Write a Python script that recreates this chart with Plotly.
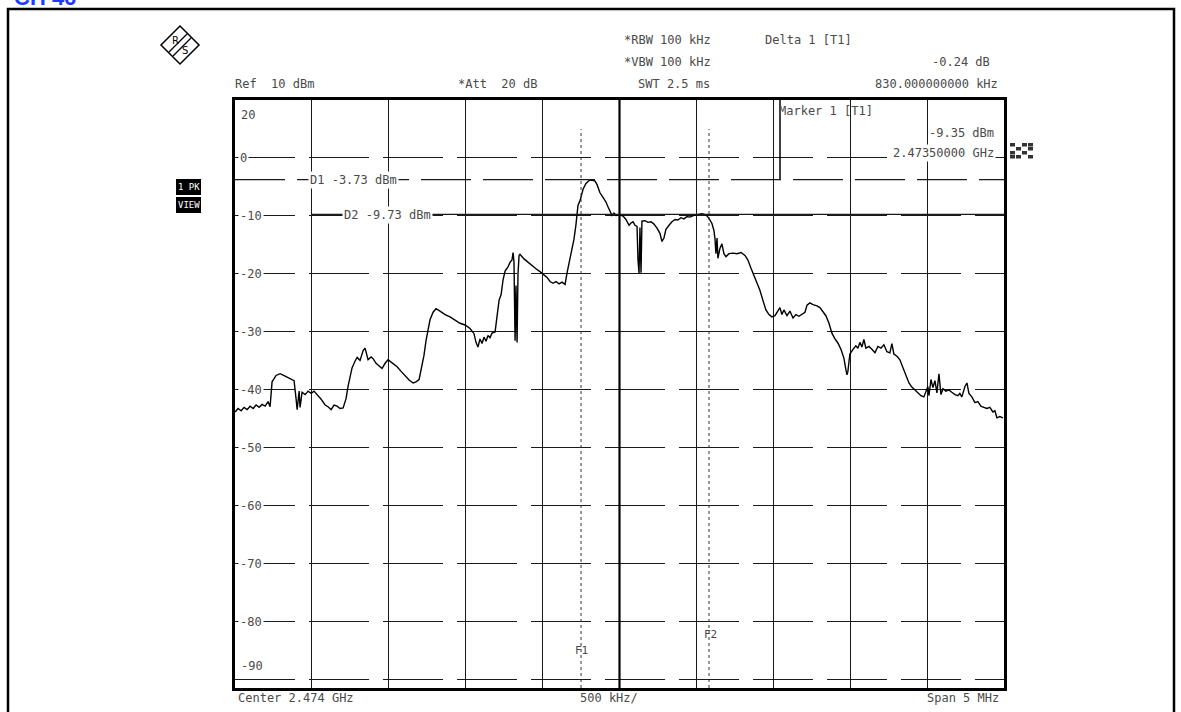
import plotly.graph_objects as go

# ---------------- data ----------------
center_ghz = 2.474
span_mhz = 5.0
ref_level = 10
freq_offset_mhz = [
    -2.499, -2.480, -2.460, -2.441, -2.421, -2.402, -2.382, -2.363, -2.343, -2.324,
    -2.304, -2.285, -2.272, -2.259, -2.233, -2.207, -2.174, -2.142, -2.116, -2.103,
    -2.096, -2.083, -2.077, -2.064, -2.044, -2.025, -2.005, -1.986, -1.966, -1.940,
    -1.914, -1.895, -1.875, -1.856, -1.836, -1.817, -1.797, -1.778, -1.765, -1.739,
    -1.719, -1.706, -1.687, -1.667, -1.654, -1.641, -1.635, -1.615, -1.602, -1.583,
    -1.563, -1.544, -1.524, -1.505, -1.485, -1.466, -1.446, -1.420, -1.394, -1.368,
    -1.342, -1.323, -1.303, -1.284, -1.271, -1.258, -1.245, -1.232, -1.212, -1.193,
    -1.167, -1.134, -1.102, -1.069, -1.037, -1.004, -0.972, -0.946, -0.933, -0.920,
    -0.907, -0.894, -0.881, -0.868, -0.855, -0.842, -0.829, -0.809, -0.796, -0.783,
    -0.770, -0.757, -0.744, -0.725, -0.712, -0.699, -0.692, -0.686, -0.679, -0.673,
    -0.666, -0.660, -0.653, -0.647, -0.621, -0.595, -0.569, -0.543, -0.517, -0.491,
    -0.471, -0.452, -0.432, -0.413, -0.393, -0.374, -0.354, -0.341, -0.322, -0.309,
    -0.296, -0.283, -0.276, -0.270, -0.257, -0.237, -0.218, -0.198, -0.179, -0.159,
    -0.146, -0.127, -0.107, -0.088, -0.075, -0.062, -0.049, -0.036, -0.023, 0.003,
    0.023, 0.042, 0.062, 0.075, 0.088, 0.101, 0.114, 0.120, 0.127, 0.133,
    0.140, 0.146, 0.166, 0.185, 0.205, 0.224, 0.244, 0.263, 0.276, 0.289,
    0.302, 0.322, 0.341, 0.361, 0.380, 0.400, 0.419, 0.439, 0.458, 0.484,
    0.510, 0.536, 0.562, 0.582, 0.601, 0.614, 0.621, 0.627, 0.634, 0.640,
    0.653, 0.666, 0.679, 0.692, 0.712, 0.738, 0.764, 0.790, 0.816, 0.835,
    0.855, 0.874, 0.894, 0.913, 0.933, 0.952, 0.972, 0.991, 1.011, 1.030,
    1.043, 1.056, 1.069, 1.089, 1.108, 1.128, 1.147, 1.167, 1.186, 1.206,
    1.219, 1.238, 1.258, 1.284, 1.303, 1.323, 1.342, 1.362, 1.381, 1.401,
    1.420, 1.440, 1.459, 1.472, 1.479, 1.485, 1.498, 1.518, 1.537, 1.550,
    1.563, 1.576, 1.589, 1.602, 1.622, 1.641, 1.661, 1.680, 1.700, 1.719,
    1.739, 1.758, 1.771, 1.784, 1.804, 1.823, 1.843, 1.862, 1.882, 1.901,
    1.921, 1.940, 1.960, 1.979, 1.992, 2.005, 2.012, 2.025, 2.038, 2.051,
    2.064, 2.077, 2.090, 2.103, 2.122, 2.142, 2.161, 2.181, 2.200, 2.213,
    2.226, 2.246, 2.259, 2.272, 2.291, 2.311, 2.330, 2.350, 2.369, 2.389,
    2.408, 2.428, 2.441, 2.454, 2.473, 2.493,
]
level_dbm = [
    -43.8, -43.2, -43.6, -43.0, -43.4, -42.8, -43.2, -42.6, -43.0, -42.5,
    -42.8, -42.0, -42.9, -38.6, -37.5, -37.2, -37.6, -38.0, -38.4, -41.5,
    -43.4, -40.2, -43.0, -40.4, -40.8, -40.2, -40.6, -40.2, -40.8, -41.6,
    -42.6, -42.9, -43.4, -42.6, -42.8, -43.2, -43.1, -41.5, -39.4, -36.2,
    -35.0, -34.4, -34.9, -33.2, -32.8, -34.0, -34.8, -34.3, -34.6, -35.4,
    -35.8, -36.3, -35.4, -34.8, -35.2, -35.6, -36.0, -36.8, -37.6, -38.3,
    -38.8, -38.6, -38.2, -36.0, -34.0, -31.5, -29.5, -27.9, -26.6, -26.0,
    -26.4, -27.0, -27.4, -28.0, -28.5, -28.8, -29.4, -30.3, -31.8, -32.6,
    -31.2, -32.0, -30.9, -31.6, -30.6, -31.0, -30.2, -30.0, -27.0, -24.5,
    -23.6, -21.0, -19.5, -18.8, -18.0, -17.6, -16.3, -18.0, -31.5, -22.0,
    -31.8, -20.0, -16.8, -16.6, -17.4, -18.0, -18.6, -19.1, -19.6, -20.1,
    -20.6, -21.3, -21.6, -21.3, -21.7, -21.4, -21.8, -19.8, -17.2, -15.8,
    -14.0, -11.5, -10.1, -8.2, -7.4, -5.4, -4.4, -3.9, -3.8, -4.0,
    -4.6, -6.0, -6.8, -7.6, -8.4, -9.3, -9.9, -9.5, -9.9, -9.8,
    -10.0, -10.6, -11.6, -11.2, -11.0, -11.6, -11.8, -17.5, -19.9, -12.0,
    -19.8, -10.9, -10.8, -11.1, -11.0, -11.4, -12.1, -13.0, -14.4, -13.8,
    -12.3, -11.6, -11.0, -10.6, -10.7, -10.3, -10.5, -10.1, -10.2, -9.9,
    -9.8, -9.6, -9.8, -10.4, -11.3, -12.5, -14.0, -16.5, -13.8, -17.3,
    -15.6, -14.8, -16.5, -17.0, -16.5, -16.4, -16.5, -16.3, -16.8, -17.6,
    -19.0, -20.3, -21.5, -22.8, -24.6, -26.2, -27.0, -27.4, -27.2, -26.4,
    -25.8, -27.0, -26.2, -27.2, -26.4, -27.6, -27.0, -27.3, -26.9, -26.6,
    -25.4, -25.0, -25.3, -25.5, -25.8, -26.5, -27.2, -28.5, -30.2, -31.2,
    -31.9, -33.0, -34.5, -36.5, -37.4, -36.8, -33.8, -33.0, -32.4, -32.8,
    -31.8, -32.6, -31.3, -32.8, -32.5, -33.0, -33.6, -32.5, -32.8, -32.2,
    -33.4, -33.6, -32.0, -33.8, -34.2, -34.8, -36.2, -37.5, -38.8, -39.5,
    -40.0, -40.4, -41.0, -41.2, -40.4, -39.4, -41.0, -38.2, -39.6, -38.4,
    -40.5, -37.2, -40.8, -39.8, -40.2, -40.0, -40.4, -40.8, -41.0, -40.6,
    -41.2, -39.4, -38.8, -40.6, -41.2, -42.2, -42.0, -42.8, -43.0, -43.2,
    -43.0, -43.8, -43.6, -44.8, -44.6, -44.8,
]
y_tick_values = [0, -10, -20, -30, -40, -50, -60, -70, -80]
y_tick_labels = ["0", "-10", "-20", "-30", "-40", "-50", "-60", "-70", "-80"]
display_line_d1 = -3.73
display_line_d2 = -9.73
freq_line_f1 = -0.250
freq_line_f2 = 0.582
y_bottom = -91.4

# ---------------- layout helpers ----------------
W, H = 1181, 712
L, R, T, B = 235, 1004, 100, 688
def px(x):
    return (x - L) / (R - L)
def py(y):
    return (B - y) / (B - T)
def yv(v):
    return T + (ref_level - v) * (B - T) / (ref_level - y_bottom)

MONO = "DejaVu Sans Mono"
TXT = "#4a4a4a"

fig = go.Figure()
fig.add_trace(go.Scatter(x=freq_offset_mhz, y=level_dbm, mode="lines",
                         line=dict(color="black", width=1.4), hoverinfo="skip",
                         showlegend=False))

fig.update_xaxes(range=[-span_mhz / 2, span_mhz / 2], dtick=0.5, tick0=0,
                 showgrid=True, gridcolor="#1a1a1a", gridwidth=1.3,
                 showticklabels=False, ticks="", zeroline=False,
                 showline=True, linecolor="black", linewidth=2.5, mirror=True)
fig.update_yaxes(range=[y_bottom, ref_level], dtick=10, tick0=0,
                 showgrid=True, gridcolor="#1a1a1a", gridwidth=1.3,
                 griddash="60px,14px",
                 showticklabels=False, ticks="", zeroline=False,
                 showline=True, linecolor="black", linewidth=2.5, mirror=True)

shapes = []
annos = []

# center vertical line thicker
shapes.append(dict(type="line", xref="x", yref="y", x0=0, x1=0, y0=y_bottom, y1=ref_level,
                   line=dict(color="black", width=2.2)))
# display lines
shapes.append(dict(type="line", xref="x", yref="y", x0=-2.5, x1=2.5,
                   y0=display_line_d1, y1=display_line_d1,
                   line=dict(color="#1a1a1a", width=1.3, dash="50px,12px")))
shapes.append(dict(type="line", xref="x", yref="y", x0=-2.0, x1=2.5,
                   y0=display_line_d2, y1=display_line_d2,
                   line=dict(color="#1a1a1a", width=1.3)))
# frequency lines
for f in (freq_line_f1, freq_line_f2):
    shapes.append(dict(type="line", xref="x", yref="y", x0=f, x1=f, y0=y_bottom, y1=5,
                       line=dict(color="#333", width=1, dash="dot")))
# marker info separator
shapes.append(dict(type="line", xref="paper", yref="paper", x0=px(780), x1=px(780),
                   y0=py(100), y1=py(179), line=dict(color="black", width=1.5)))

# outer frame
shapes.append(dict(type="rect", xref="paper", yref="paper", x0=px(8), x1=px(1174),
                   y0=py(9), y1=py(716), line=dict(color="black", width=2.5)))

# R&S logo diamond
cx, cy, s = 180, 45, 19
shapes.append(dict(type="path", xref="paper", yref="paper",
                   path=f"M {px(cx)},{py(cy - s)} L {px(cx + s)},{py(cy)} L {px(cx)},{py(cy + s)} L {px(cx - s)},{py(cy)} Z",
                   line=dict(color="black", width=1.5), fillcolor="white"))
for d in (-2, 2):
    shapes.append(dict(type="line", xref="paper", yref="paper",
                       x0=px(cx - 9 + d), y0=py(cy + 9 + d), x1=px(cx + 9 + d), y1=py(cy - 9 + d),
                       line=dict(color="black", width=1.3)))
for lx, ly, lt in ((cx - 5, cy - 5, "R"), (cx + 5, cy + 5, "S")):
    annos.append(dict(x=px(lx), y=py(ly), xref="paper", yref="paper", text=lt,
                      xanchor="center", yanchor="middle", showarrow=False,
                      font=dict(family="DejaVu Sans", size=10, color="black")))

# checkered marker icon
cells = [(0, 0), (2, 0), (1, 1), (3, 1), (0, 2), (2, 2), (1, 3), (3, 3), (3, 0), (0, 3)]
for (i, j) in cells:
    x0 = 1010 + i * 6
    y0 = 143 + j * 4
    shapes.append(dict(type="rect", xref="paper", yref="paper", x0=px(x0), x1=px(x0 + 5),
                       y0=py(y0), y1=py(y0 + 3.5), line=dict(width=0), fillcolor="#333"))

# 1 PK / VIEW labels
for yy, t in ((187, "1 PK"), (205, "VIEW")):
    shapes.append(dict(type="rect", xref="paper", yref="paper", x0=px(176), x1=px(201),
                       y0=py(yy - 8), y1=py(yy + 8), line=dict(width=0), fillcolor="black"))
    annos.append(dict(x=px(188.5), y=py(yy), xref="paper", yref="paper", text=t,
                      xanchor="center", yanchor="middle", showarrow=False,
                      font=dict(family=MONO, size=9, color="white")))

def txt(x, y, t, anchor="left", size=12, color=TXT, bg=None, family=MONO):
    d = dict(x=px(x), y=py(y), xref="paper", yref="paper", text=t, showarrow=False,
             xanchor=anchor, yanchor="middle", font=dict(family=family, size=size, color=color))
    if bg:
        d["bgcolor"] = bg
    annos.append(d)

# header
txt(233, 84, "Ref  10 dBm")
txt(456, 84, "*Att  20 dB")
txt(622, 40, "*RBW 100 kHz")
txt(622, 62, "*VBW 100 kHz")
txt(636, 84, "SWT 2.5 ms")
txt(763, 40, "Delta 1 [T1]")
txt(992, 62, "-0.24 dB", anchor="right")
txt(1000, 84, "830.000000000 kHz", anchor="right")
# marker info
txt(777, 111, "Marker 1 [T1]")
txt(996, 133, "-9.35 dBm", anchor="right")
txt(996, 153, "2.47350000 GHz", anchor="right", bg="white")

# y labels inside plot
txt(239, 115, "20")
for v, lab in zip(y_tick_values, y_tick_labels):
    txt(238, yv(v), lab, bg="white")
txt(239, 666, "-90")

# display line labels
txt(308, 180, "D1 -3.73 dBm", bg="white")
txt(342, 215, "D2 -9.73 dBm", bg="white")
# frequency line labels
txt(581, 650, "F1", anchor="center", size=11)
txt(710, 634, "F2", anchor="center", size=11)

# footer
txt(236, 698, "Center 2.474 GHz")
txt(578, 698, "500 kHz/")
txt(1001, 698, "Span 5 MHz", anchor="right")

# cut-off blue title at the very top edge (only its lower part shows, as in the scan)
annos.append(dict(x=px(12), y=py(12), xref="paper", yref="paper", text="<b>CH 46</b>",
                  showarrow=False, xanchor="left", yanchor="bottom",
                  font=dict(family="Liberation Sans", size=22, color="#1f3bff")))

fig.update_layout(width=W, height=H, margin=dict(l=L, r=W - R, t=T, b=H - B),
                  paper_bgcolor="white", plot_bgcolor="white",
                  shapes=shapes, annotations=annos, showlegend=False)

fig.write_html("out.html", config={"displayModeBar": False},
               post_script="document.body.style.margin='0px';document.body.style.overflow='hidden';")
